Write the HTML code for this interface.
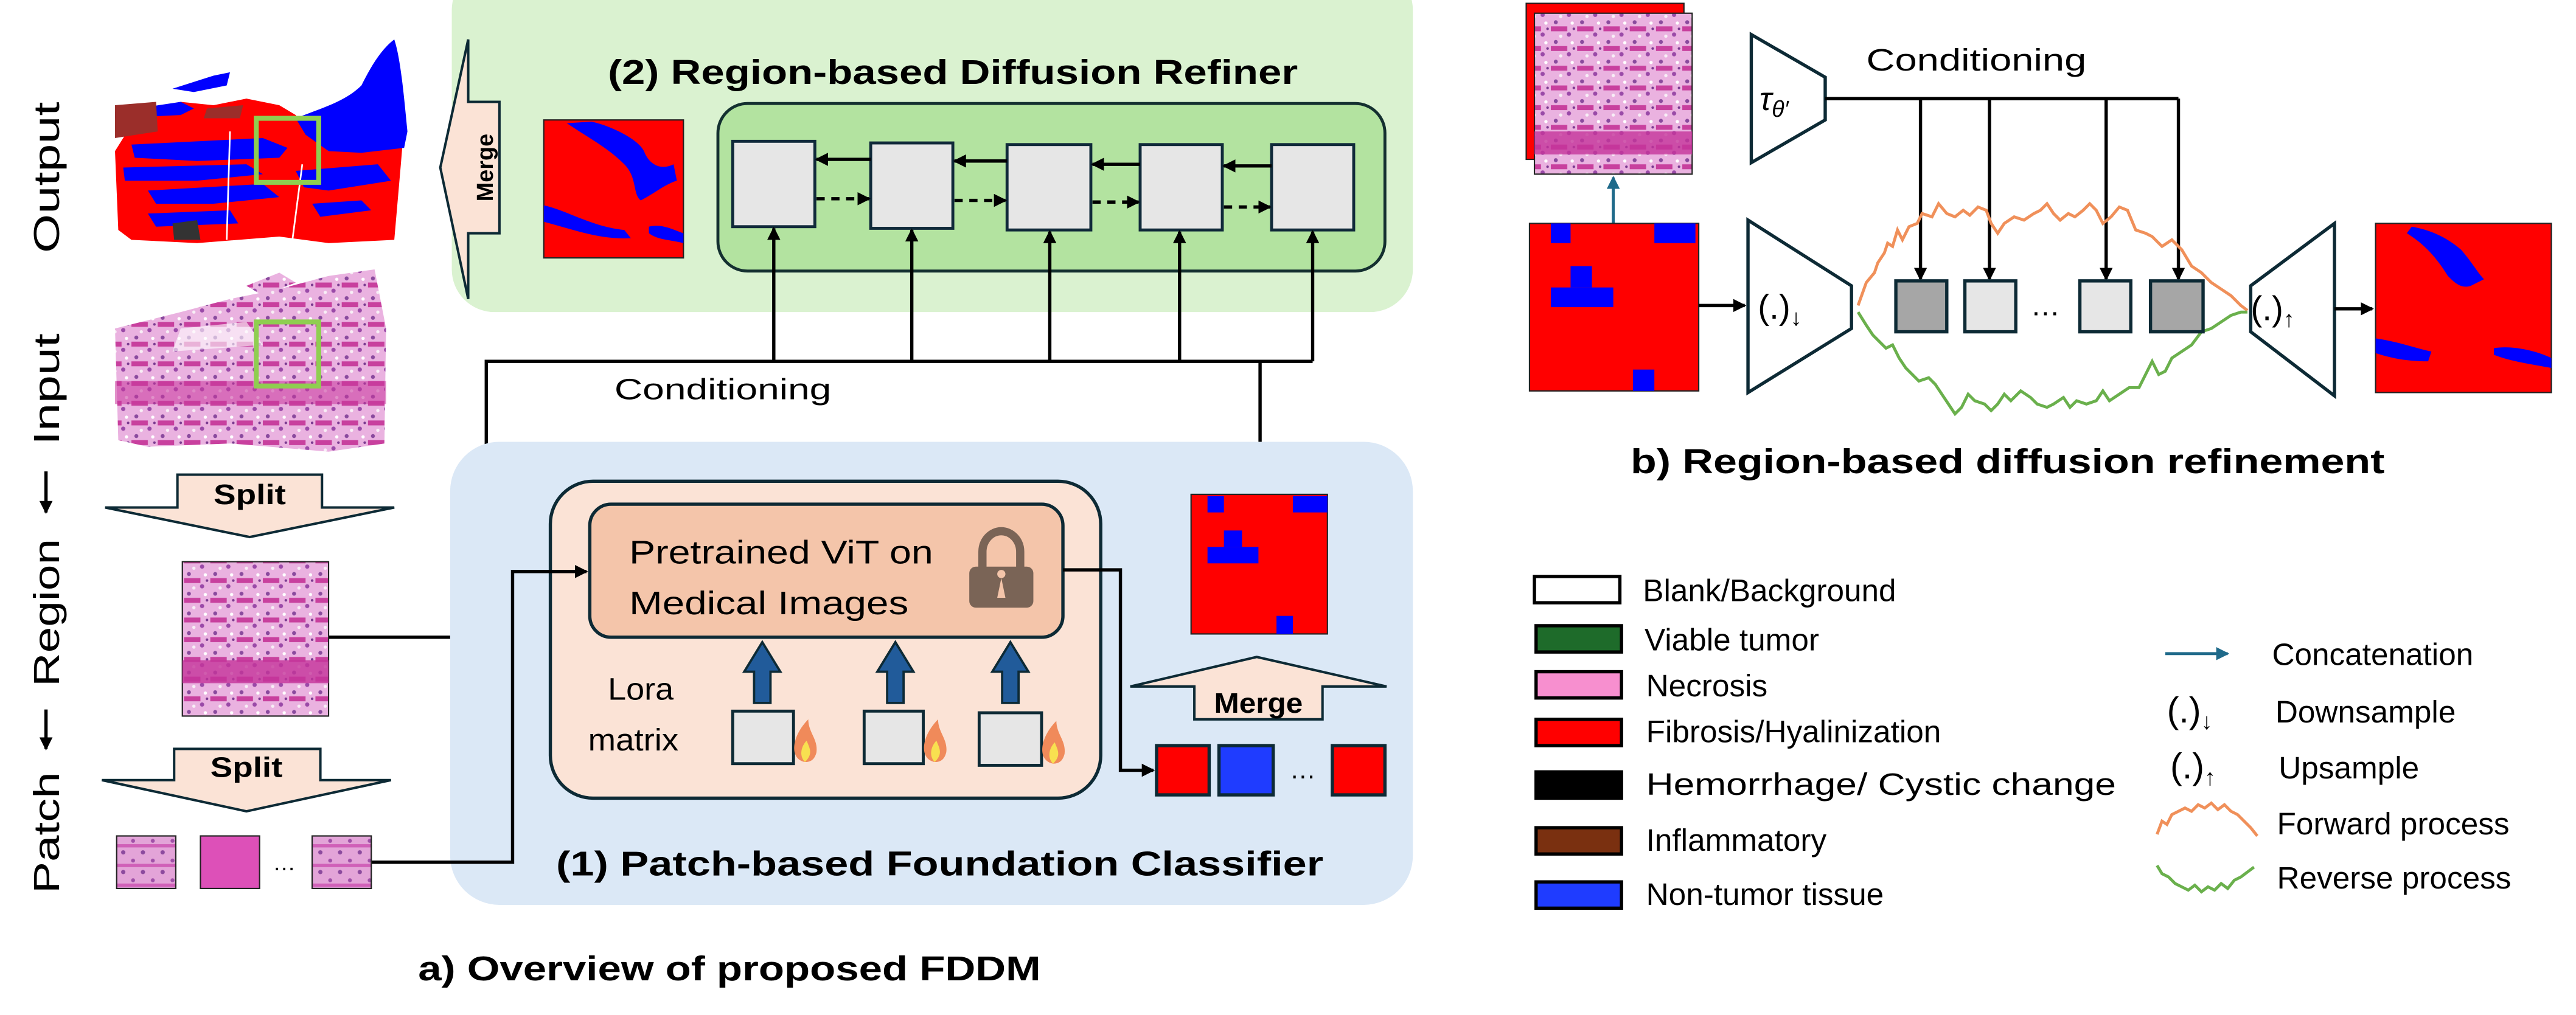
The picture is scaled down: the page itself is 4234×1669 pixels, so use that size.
<!DOCTYPE html>
<html><head><meta charset="utf-8"><style>
html,body{margin:0;padding:0;background:#fff}
svg{display:block}
text{font-family:"Liberation Sans",sans-serif}
</style></head><body>
<svg width="4234" height="1669" viewBox="0 0 1568 618" xmlns="http://www.w3.org/2000/svg">
<defs>
<pattern id="tis" width="16" height="12" patternUnits="userSpaceOnUse">
<rect width="16" height="12" fill="#eab2e0"/>
<rect y="4" width="10" height="3" fill="#c8409e"/>
<circle cx="3" cy="1.5" r="1.2" fill="#8a4a9e"/>
<circle cx="11" cy="9" r="1.3" fill="#9a4aa8"/>
<circle cx="13" cy="2" r="1" fill="#fff"/>
<circle cx="6" cy="10" r="1" fill="#f8eef6"/>
<circle cx="14" cy="5.5" r="0.8" fill="#7a3a90"/>
</pattern>
<pattern id="tis2" width="12" height="12" patternUnits="userSpaceOnUse">
<rect width="12" height="12" fill="#e3a4d8"/>
<circle cx="3" cy="3" r="1.3" fill="#8c4a9e"/>
<circle cx="9" cy="8" r="1.2" fill="#a050a8"/>
<rect y="10" width="12" height="2" fill="#d060b8"/>
</pattern>
<marker id="ah" markerWidth="8" markerHeight="8" refX="7" refY="4" orient="auto" markerUnits="userSpaceOnUse"><path d="M0,0L8,4L0,8z" fill="#000"/></marker>
<marker id="ahT" markerWidth="8" markerHeight="8" refX="7" refY="4" orient="auto" markerUnits="userSpaceOnUse"><path d="M0,0L8,4L0,8z" fill="#1f6a8a"/></marker>
</defs>

<!-- green panel -->
<rect x="275" y="-20" width="585" height="210" rx="26" fill="#daf2d0"/>
<text x="580" y="51" font-size="21" font-weight="bold" text-anchor="middle" textLength="420" lengthAdjust="spacingAndGlyphs">(2) Region-based Diffusion Refiner</text>
<path d="M268,102 L285,24 L285,62 L304,62 L304,142 L285,142 L285,182 Z" fill="#fbe3d6" stroke="#0d2a35" stroke-width="1.5"/>
<text transform="translate(300,102) rotate(-90)" font-size="14" font-weight="bold" text-anchor="middle">Merge</text>
<rect x="331" y="73" width="85" height="84" fill="#ff0000" stroke="#222" stroke-width="0.8"/>
<path d="M345,75 C360,85 370,90 380,100 C388,108 385,118 390,122 C398,118 405,112 412,110 L410,100 C402,104 395,100 392,92 C388,84 370,76 360,74 Z" fill="#0000ff"/>
<path d="M331,125 C345,128 360,138 380,140 L384,145 C365,146 350,140 331,135 Z" fill="#0000ff"/>
<path d="M395,138 C403,136 410,140 416,142 L416,148 C408,146 400,146 395,142Z" fill="#0000ff"/>
<rect x="437" y="63" width="406" height="102" rx="18" fill="#b3e3a0" stroke="#143030" stroke-width="1.8"/>
<g fill="#e6e6e6" stroke="#102a3a" stroke-width="1.8">
<rect x="446" y="86" width="50" height="52"/><rect x="530" y="87" width="50" height="52"/><rect x="613" y="88" width="51" height="52"/><rect x="694" y="88" width="50" height="52"/><rect x="774" y="88" width="50" height="52"/>
</g>
<g stroke="#000" stroke-width="2" marker-end="url(#ah)">
<line x1="530" y1="97" x2="497" y2="97"/><line x1="613" y1="98" x2="581" y2="98"/><line x1="694" y1="100" x2="665" y2="100"/><line x1="774" y1="101" x2="745" y2="101"/>
</g>
<g stroke="#000" stroke-width="2" stroke-dasharray="5,4" marker-end="url(#ah)">
<line x1="497" y1="121" x2="529" y2="121"/><line x1="581" y1="122" x2="612" y2="122"/><line x1="665" y1="123" x2="693" y2="123"/><line x1="745" y1="126" x2="773" y2="126"/>
</g>
<g stroke="#000" stroke-width="2" fill="none">
<polyline points="200,388 296,388 296,220 799,220"/>
<line x1="767" y1="220" x2="767" y2="301"/>
</g>
<g stroke="#000" stroke-width="2" marker-end="url(#ah)">
<line x1="471" y1="220" x2="471" y2="139"/><line x1="555" y1="220" x2="555" y2="140"/><line x1="639" y1="220" x2="639" y2="141"/><line x1="718" y1="220" x2="718" y2="141"/><line x1="799" y1="220" x2="799" y2="141"/>
</g>
<text x="440" y="243" font-size="18" text-anchor="middle" textLength="132" lengthAdjust="spacingAndGlyphs">Conditioning</text>

<!-- blue panel -->
<rect x="274" y="269" width="586" height="282" rx="30" fill="#dbe8f6"/>
<rect x="335" y="293" width="335" height="193" rx="26" fill="#fbe3d6" stroke="#0d2a35" stroke-width="2"/>
<rect x="359" y="307" width="288" height="81" rx="13" fill="#f4c5aa" stroke="#0d2a35" stroke-width="2"/>
<text x="383" y="343" font-size="20" textLength="185" lengthAdjust="spacingAndGlyphs">Pretrained ViT on</text>
<text x="383" y="374" font-size="20" textLength="170" lengthAdjust="spacingAndGlyphs">Medical Images</text>
<path d="M598,346 L598,336 A11,12 0 0 1 621,336 L621,346" fill="none" stroke="#7a6456" stroke-width="5"/>
<rect x="590" y="345" width="39" height="25" rx="4" fill="#7a6456"/>
<path d="M609.5,352 a2.5,2.5 0 1 1 0.01,0 L612,364 L607,364Z" fill="#f4c5aa"/>
<g fill="#215b9a" stroke="#0d2a35" stroke-width="1.4">
<path d="M464,391 L475,409 L469,409 L469,428 L459,428 L459,409 L453,409Z"/>
<path d="M545,391 L556,409 L550,409 L550,428 L540,428 L540,409 L534,409Z"/>
<path d="M615,391 L626,409 L620,409 L620,428 L610,428 L610,409 L604,409Z"/>
</g>
<text x="370" y="426" font-size="19" textLength="40" lengthAdjust="spacingAndGlyphs">Lora</text>
<text x="358" y="457" font-size="19" textLength="55" lengthAdjust="spacingAndGlyphs">matrix</text>
<g fill="#e6e6e6" stroke="#0d2a35" stroke-width="1.8">
<rect x="446" y="433" width="37" height="32"/><rect x="526" y="433" width="36" height="32"/><rect x="596" y="434" width="38" height="32"/>
</g>
<g>
<path d="M490,464 C480,462 482,448 492,438 C492,446 498,450 497,458 C496,462 494,464 490,464Z" fill="#f08a5a"/>
<path d="M490,464 C486,460 488,454 491,451 C493,456 495,459 490,464Z" fill="#f8e050"/>
<path d="M569,464 C559,462 561,448 571,438 C571,446 577,450 576,458 C575,462 573,464 569,464Z" fill="#f08a5a"/>
<path d="M569,464 C565,460 567,454 570,451 C572,456 574,459 569,464Z" fill="#f8e050"/>
<path d="M641,465 C631,463 633,449 643,439 C643,447 649,451 648,459 C647,463 645,465 641,465Z" fill="#f08a5a"/>
<path d="M641,465 C637,461 639,455 642,452 C644,457 646,460 641,465Z" fill="#f8e050"/>
</g>
<polyline points="647,347 682,347 682,469 702,469" fill="none" stroke="#000" stroke-width="2" marker-end="url(#ah)"/>
<rect x="704" y="454" width="32" height="30" fill="#f00" stroke="#0d2a35" stroke-width="2"/>
<rect x="742" y="454" width="33" height="30" fill="#1f3cff" stroke="#0d2a35" stroke-width="2"/>
<text x="793" y="474" font-size="16" text-anchor="middle">…</text>
<rect x="811" y="454" width="32" height="30" fill="#f00" stroke="#0d2a35" stroke-width="2"/>
<path d="M765,400 L844,418 L805,418 L805,438 L727,438 L727,418 L688,418Z" fill="#fbe3d6" stroke="#0d2a35" stroke-width="1.5"/>
<text x="766" y="434" font-size="17" font-weight="bold" text-anchor="middle" textLength="54" lengthAdjust="spacingAndGlyphs">Merge</text>
<rect x="725" y="301" width="83" height="85" fill="#f00" stroke="#222" stroke-width="0.8"/>
<g fill="#0000ff"><rect x="735" y="302" width="10" height="10"/><rect x="787" y="302" width="21" height="10"/><rect x="745" y="323" width="11" height="10"/><rect x="735" y="333" width="31" height="10"/><rect x="777" y="375" width="10" height="11"/></g>
<polyline points="226,525 312,525 312,348 357,348" fill="none" stroke="#000" stroke-width="2" marker-end="url(#ah)"/>
<text x="572" y="533" font-size="21" font-weight="bold" text-anchor="middle" textLength="467" lengthAdjust="spacingAndGlyphs">(1) Patch-based Foundation Classifier</text>
<text x="444" y="597" font-size="21" font-weight="bold" text-anchor="middle" textLength="379" lengthAdjust="spacingAndGlyphs">a) Overview of proposed FDDM</text>

<!-- left labels -->
<g font-size="22" text-anchor="middle">
<text transform="translate(36,108) rotate(-90)" textLength="92" lengthAdjust="spacingAndGlyphs">Output</text>
<text transform="translate(36,237) rotate(-90)" textLength="68" lengthAdjust="spacingAndGlyphs">Input</text>
<text transform="translate(36,373) rotate(-90)" textLength="90" lengthAdjust="spacingAndGlyphs">Region</text>
<text transform="translate(36,507) rotate(-90)" textLength="74" lengthAdjust="spacingAndGlyphs">Patch</text>
</g>
<g stroke="#000" stroke-width="2" marker-end="url(#ah)"><line x1="28" y1="287" x2="28" y2="312"/><line x1="28" y1="432" x2="28" y2="456"/></g>

<!-- output image -->
<path d="M88,66 L110,62 L130,64 L150,60 L170,64 L180,70 L185,80 L200,92 L215,88 L245,88 L244,100 L240,146 L200,148 L170,144 L120,148 L80,146 L72,140 L70,92 L80,76Z" fill="#ff0000"/>
<path d="M180,72 C195,66 210,62 220,52 C226,40 232,30 240,24 C244,36 246,60 248,80 L246,90 L220,93 L200,92 L186,82Z" fill="#0000ff"/>
<path d="M70,68 L110,62 L118,66 L110,70 L70,72Z" fill="#0000ff"/>
<path d="M105,54 L130,46 L140,44 L138,52 L118,56Z" fill="#0000ff"/>
<path d="M70,64 L95,62 L96,80 L70,84Z" fill="#9b2e2a"/>
<path d="M126,66 L148,64 L146,72 L124,72Z" fill="#9b2e2a"/>
<path d="M80,88 L160,84 L175,90 L170,96 L120,98 L82,96Z" fill="#0000ff"/>
<path d="M75,102 L150,100 L160,106 L120,110 L76,110Z" fill="#0000ff"/>
<path d="M90,116 L160,112 L170,120 L130,124 L95,124Z" fill="#0000ff"/>
<path d="M180,104 L230,100 L238,110 L200,116 L185,114Z" fill="#0000ff"/>
<path d="M190,124 L220,122 L226,128 L195,132Z" fill="#0000ff"/>
<path d="M90,130 L140,128 L145,136 L95,138Z" fill="#0000ff"/>
<path d="M105,136 L120,134 L122,146 L106,146Z" fill="#333"/>
<line x1="140" y1="80" x2="138" y2="146" stroke="#fff" stroke-width="1"/>
<line x1="184" y1="100" x2="178" y2="146" stroke="#fff" stroke-width="1"/>
<rect x="156" y="72" width="38" height="39" fill="none" stroke="#8fce50" stroke-width="3"/>
<!-- input image -->
<path d="M70,200 L110,190 L140,182 L170,176 L200,168 L228,164 L235,200 L234,270 L200,275 L140,270 L90,272 L72,268 Z" fill="url(#tis)"/>
<path d="M160,180 L180,172 L170,166 L150,174Z" fill="url(#tis)"/>
<path d="M110,200 L150,196 L160,210 L105,214Z" fill="#fff" opacity="0.6"/>
<rect x="70" y="232" width="165" height="14" fill="#c8379c" opacity="0.55"/>
<rect x="156" y="196" width="38" height="39" fill="none" stroke="#8fce50" stroke-width="3"/>
<!-- split arrows -->
<path d="M108,289 L196,289 L196,309 L240,309 L152,327 L64,309 L108,309Z" fill="#fbe3d6" stroke="#0d2a35" stroke-width="1.5"/>
<text x="152" y="307" font-size="17" font-weight="bold" text-anchor="middle" textLength="44" lengthAdjust="spacingAndGlyphs">Split</text>
<rect x="111" y="342" width="89" height="94" fill="url(#tis)" stroke="#222" stroke-width="0.8"/>
<rect x="111" y="402" width="89" height="14" fill="#c4339a" opacity="0.8"/>
<path d="M106,456 L195,456 L195,475 L238,475 L150,494 L62,475 L106,475Z" fill="#fbe3d6" stroke="#0d2a35" stroke-width="1.5"/>
<text x="150" y="473" font-size="17" font-weight="bold" text-anchor="middle" textLength="44" lengthAdjust="spacingAndGlyphs">Split</text>
<rect x="71" y="509" width="36" height="32" fill="url(#tis2)" stroke="#222" stroke-width="0.8"/>
<rect x="122" y="509" width="36" height="32" fill="#dd50b8" stroke="#222" stroke-width="0.8"/>
<text x="173" y="530" font-size="14" text-anchor="middle">…</text>
<rect x="190" y="509" width="36" height="32" fill="url(#tis2)" stroke="#222" stroke-width="0.8"/>

<!-- ===== right part b ===== -->
<rect x="929" y="2" width="96" height="95" fill="#f00" stroke="#222" stroke-width="0.8"/>
<rect x="934" y="8" width="96" height="98" fill="url(#tis)" stroke="#222" stroke-width="0.8"/>
<rect x="934" y="80" width="96" height="14" fill="#c4339a" opacity="0.8"/>
<line x1="982" y1="136" x2="982" y2="108" stroke="#1f6a8a" stroke-width="1.8" marker-end="url(#ahT)"/>
<rect x="931" y="136" width="103" height="102" fill="#f00" stroke="#222" stroke-width="0.8"/>
<g fill="#0000ff"><rect x="944" y="136" width="12" height="12"/><rect x="1007" y="136" width="25" height="12"/><rect x="956" y="162" width="13" height="13"/><rect x="944" y="175" width="38" height="12"/><rect x="994" y="225" width="13" height="13"/></g>
<line x1="1034" y1="186" x2="1062" y2="186" stroke="#000" stroke-width="2" marker-end="url(#ah)"/>
<path d="M1064,134 L1127,174 L1127,200 L1064,239Z" fill="#fff" stroke="#0d2a35" stroke-width="2"/>
<text x="1070" y="194" font-size="21">(.)<tspan font-size="14" dy="4">↓</tspan></text>
<path d="M1066,21 L1111,47 L1111,73 L1066,99Z" fill="#fff" stroke="#0d2a35" stroke-width="2"/>
<text x="1071" y="67" font-size="20" font-style="italic" font-family="Liberation Serif">τ<tspan font-size="14" dy="4">θ′</tspan></text>
<polyline points="1111,60 1326,60" fill="none" stroke="#000" stroke-width="2"/>
<g stroke="#000" stroke-width="2" marker-end="url(#ah)">
<line x1="1169" y1="60" x2="1169" y2="170"/><line x1="1211" y1="60" x2="1211" y2="170"/><line x1="1282" y1="60" x2="1282" y2="170"/><line x1="1326" y1="60" x2="1326" y2="170"/>
</g>
<text x="1203" y="43" font-size="19" text-anchor="middle" textLength="134" lengthAdjust="spacingAndGlyphs">Conditioning</text>
<path d="M1131,186 L1136,172 L1141,166 L1143,160 L1147,154 L1149,148 L1152,150 L1155,140 L1158,146 L1162,138 L1167,136 L1170,130 L1176,132 L1180,124 L1185,130 L1190,132 L1195,128 L1199,131 L1204,126 L1209,128 L1212,136 L1216,142 L1220,136 L1226,132 L1232,134 L1238,130 L1242,128 L1246,124 L1250,130 L1254,134 L1259,130 L1263,132 L1268,128 L1272,124 L1276,128 L1280,136 L1285,132 L1290,126 L1295,128 L1300,140 L1306,142 L1310,144 L1316,150 L1322,146 L1328,152 L1334,162 L1340,166 L1346,172 L1352,176 L1358,180 L1364,186 L1368,189" fill="none" stroke="#f0905a" stroke-width="1.8"/>
<path d="M1131,190 L1136,198 L1140,204 L1144,208 L1148,212 L1152,210 L1156,218 L1160,224 L1164,228 L1168,232 L1174,230 L1178,234 L1182,240 L1186,246 L1190,252 L1194,248 L1198,240 L1202,244 L1208,246 L1212,250 L1216,246 L1220,240 L1224,244 L1230,238 L1236,242 L1240,246 L1246,248 L1250,246 L1256,242 L1260,248 L1264,244 L1270,246 L1276,244 L1280,238 L1284,244 L1290,240 L1296,236 L1302,236 L1306,228 L1310,220 L1314,228 L1318,226 L1322,218 L1328,214 L1334,210 L1340,202 L1346,200 L1352,196 L1358,192 L1364,190 L1368,190" fill="none" stroke="#6ab04c" stroke-width="1.8"/>
<g stroke="#0d2a35" stroke-width="2">
<rect x="1154" y="171" width="31" height="31" fill="#a6a6a6"/><rect x="1196" y="171" width="31" height="31" fill="#e6e6e6"/><rect x="1266" y="171" width="31" height="31" fill="#e6e6e6"/><rect x="1309" y="171" width="32" height="31" fill="#a6a6a6"/>
</g>
<text x="1245" y="192" font-size="18" text-anchor="middle">…</text>
<path d="M1370,174 L1421,136 L1421,241 L1370,202Z" fill="#fff" stroke="#0d2a35" stroke-width="2"/>
<text x="1370" y="195" font-size="21">(.)<tspan font-size="14" dy="4">↑</tspan></text>
<line x1="1421" y1="188" x2="1444" y2="188" stroke="#000" stroke-width="2" marker-end="url(#ah)"/>
<rect x="1446" y="136" width="107" height="103" fill="#f00" stroke="#222" stroke-width="0.8"/>
<path d="M1468,138 C1480,140 1490,145 1498,152 C1505,160 1508,166 1512,170 L1504,174 C1498,176 1494,172 1490,168 C1485,160 1478,150 1465,142Z" fill="#0000ff"/>
<path d="M1446,206 C1460,208 1470,212 1480,214 L1478,220 C1465,220 1455,218 1446,215Z" fill="#0000ff"/>
<path d="M1518,212 C1530,210 1545,214 1553,218 L1553,224 C1542,222 1528,220 1518,216Z" fill="#0000ff"/>
<text x="1222" y="288" font-size="21" font-weight="bold" text-anchor="middle" textLength="459" lengthAdjust="spacingAndGlyphs">b) Region-based diffusion refinement</text>

<!-- legend -->
<g stroke="#000" stroke-width="2">
<rect x="934" y="351" width="52" height="16" fill="#fff"/>
<rect x="935" y="381" width="52" height="16" fill="#1e6b2a"/>
<rect x="935" y="409" width="52" height="16" fill="#f78fcf"/>
<rect x="935" y="438" width="52" height="16" fill="#ff0000"/>
<rect x="935" y="470" width="52" height="16" fill="#000"/>
<rect x="935" y="504" width="52" height="16" fill="#7a3010"/>
<rect x="935" y="537" width="52" height="16" fill="#1f3cff"/>
</g>
<g font-size="19">
<text x="1000" y="366">Blank/Background</text>
<text x="1001" y="396">Viable tumor</text>
<text x="1002" y="424">Necrosis</text>
<text x="1002" y="452">Fibrosis/Hyalinization</text>
<text x="1002" y="484" textLength="286" lengthAdjust="spacingAndGlyphs">Hemorrhage/ Cystic change</text>
<text x="1002" y="518">Inflammatory</text>
<text x="1002" y="551">Non-tumor tissue</text>
</g>
<line x1="1318" y1="398" x2="1356" y2="398" stroke="#1f6a8a" stroke-width="1.8" marker-end="url(#ahT)"/>
<g font-size="19">
<text x="1383" y="405">Concatenation</text>
<text x="1319" y="440" font-size="22">(.)<tspan font-size="14" dy="4">↓</tspan></text>
<text x="1385" y="440">Downsample</text>
<text x="1321" y="474" font-size="22">(.)<tspan font-size="14" dy="4">↑</tspan></text>
<text x="1387" y="474">Upsample</text>
<text x="1386" y="508">Forward process</text>
<text x="1386" y="541">Reverse process</text>
</g>
<path d="M1313,508 L1316,500 L1319,502 L1322,496 L1326,494 L1330,492 L1334,494 L1338,490 L1342,492 L1346,489 L1350,493 L1354,490 L1358,494 L1362,496 L1366,500 L1370,504 L1374,509" fill="none" stroke="#f0905a" stroke-width="1.8"/>
<path d="M1313,527 L1316,532 L1320,534 L1324,538 L1328,540 L1332,542 L1336,539 L1340,543 L1344,540 L1348,542 L1352,538 L1356,541 L1360,536 L1364,534 L1368,531 L1372,528" fill="none" stroke="#6ab04c" stroke-width="1.8"/>
</svg>
</body></html>
